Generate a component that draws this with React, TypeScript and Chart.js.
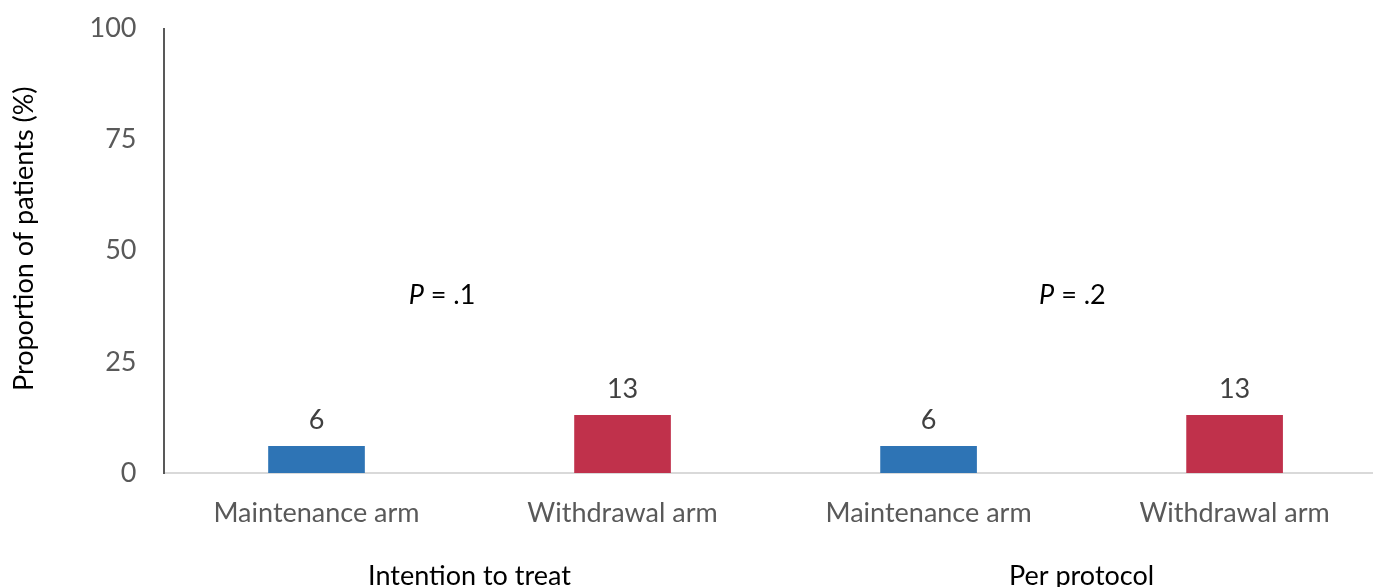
import React, { useEffect, useRef } from "react";
import { Chart, registerables } from "chart.js";

Chart.register(...registerables);

const categories = ["Maintenance arm", "Withdrawal arm", "Maintenance arm", "Withdrawal arm"];
const values = [6, 13, 6, 13];
const barColors = ["#2E74B5", "#C0314B", "#2E74B5", "#C0314B"];
const groupLabels = ["Intention to treat", "Per protocol"];
const pValues = [".1", ".2"];
const pLabelX = [0.41, 2.47];
const pLabelY = [40, 40];
const yTicks = [0, 25, 50, 75, 100];
const yTitle = "Proportion of patients (%)";

const FONT = "Lato, 'Open Sans', sans-serif";
const FS = 27;

export default function App() {
  const ref = useRef<HTMLCanvasElement | null>(null);

  useEffect(() => {
    document.body.style.margin = "0";
    const canvas = ref.current;
    if (!canvas) return;

    const overlay = {
      id: "overlay",
      afterDraw(chart: any) {
        const ctx = chart.ctx;
        const xs = chart.scales.x;
        const ys = chart.scales.y;
        ctx.save();
        // data labels
        const meta = chart.getDatasetMeta(0);
        ctx.font = `${FS}px ${FONT}`;
        ctx.fillStyle = "#404040";
        ctx.textAlign = "center";
        ctx.textBaseline = "middle";
        meta.data.forEach((bar: any, i: number) => {
          ctx.fillText(String(values[i]), bar.x, bar.y - 26);
        });
        // group labels
        ctx.fillStyle = "#000000";
        groupLabels.forEach((g, i) => {
          const x = (xs.getPixelForValue(2 * i) + xs.getPixelForValue(2 * i + 1)) / 2;
          ctx.fillText(g, x, 576);
        });
        // P labels
        pValues.forEach((p, i) => {
          const cx = xs.getPixelForValue(pLabelX[i]);
          const cy = ys.getPixelForValue(pLabelY[i]);
          ctx.font = `italic ${FS}px ${FONT}`;
          const wP = ctx.measureText("P").width;
          ctx.font = `${FS}px ${FONT}`;
          const rest = " = " + p;
          const wR = ctx.measureText(rest).width;
          const start = cx - (wP + wR) / 2;
          ctx.textAlign = "left";
          ctx.font = `italic ${FS}px ${FONT}`;
          ctx.fillText("P", start, cy);
          ctx.font = `${FS}px ${FONT}`;
          ctx.fillText(rest, start + wP, cy);
        });
        // y title
        ctx.translate(24, (ys.top + ys.bottom) / 2 - 12);
        ctx.rotate(-Math.PI / 2);
        ctx.textAlign = "center";
        ctx.fillStyle = "#000000";
        ctx.font = `${FS}px ${FONT}`;
        ctx.fillText(yTitle, 0, 0);
        ctx.restore();
      },
    };

    const chart = new Chart(canvas, {
      type: "bar",
      data: {
        datasets: [
          {
            data: values.map((v, i) => ({ x: i, y: v })),
            backgroundColor: barColors,
            barThickness: 96,
          },
        ],
      },
      options: {
        animation: false,
        responsive: false,
        maintainAspectRatio: false,
        layout: { padding: { top: 28.5, right: 6, left: 0, bottom: 0 } },
        plugins: { legend: { display: false }, tooltip: { enabled: false } },
        scales: {
          x: {
            type: "linear",
            offset: false,
            min: -0.5,
            max: 3.449,
            grid: { display: false, drawTicks: false, offset: false },
            border: { display: true, color: "#D9D9D9", width: 2 },
            afterBuildTicks: (scale: any) => {
              scale.ticks = categories.map((_, i) => ({ value: i }));
            },
            afterFit: (scale: any) => {
              scale.height = 114;
              scale.paddingLeft = 0;
              scale.paddingRight = 0;
            },
            ticks: {
              autoSkip: false,
              maxRotation: 0,
              padding: 24,
              color: "#595959",
              font: { family: FONT, size: FS },
              callback: (v: any) => categories[v as number] ?? "",
            },
          },
          y: {
            min: 0,
            max: 100,
            afterBuildTicks: (scale: any) => {
              scale.ticks = yTicks.map((v) => ({ value: v }));
            },
            afterFit: (scale: any) => {
              scale.width = 163.5;
              scale.paddingTop = 0;
              scale.paddingBottom = 0;
            },
            grid: { display: false, drawTicks: false },
            border: { display: true, color: "#595959", width: 2 },
            ticks: {
              padding: 27,
              color: "#595959",
              font: { family: FONT, size: FS },
            },
          },
        },
      },
      plugins: [overlay],
    });
    return () => chart.destroy();
  }, []);

  return (
    <div style={{ width: 1378, height: 587, overflow: "hidden" }}>
      <canvas ref={ref} width={1378} height={587} style={{ display: "block" }} />
    </div>
  );
}
